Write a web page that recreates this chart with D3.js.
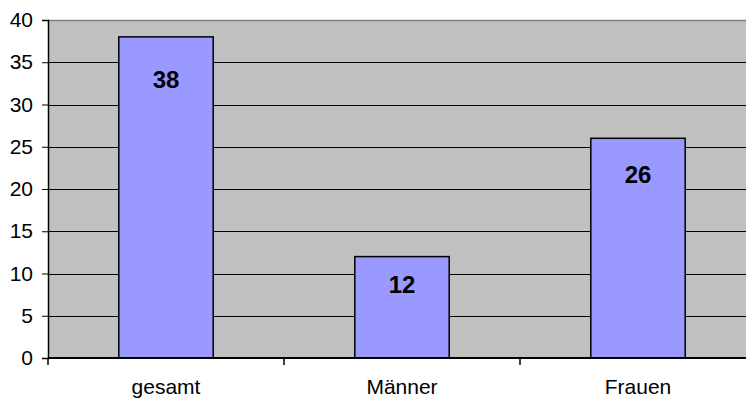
<!DOCTYPE html>
<html>
<head>
<meta charset="utf-8">
<script src="https://cdn.jsdelivr.net/npm/d3@7"></script>
<style>
  body { margin: 0; background: #fff; }
  text { font-family: "Liberation Sans", Arial, sans-serif; }
</style>
</head>
<body>
<div id="chart"></div>
<script>
const categories = ["gesamt", "Männer", "Frauen"];
const values = [38, 12, 26];
const yTicks = [0, 5, 10, 15, 20, 25, 30, 35, 40];

function init() {
  const width = 746;
  const height = 401;
  const left = 48, right = 756, top = 20, bottom = 358;

  const svg = d3.select("#chart")
    .append("svg")
    .attr("width", width)
    .attr("height", height);

  const x = d3.scaleBand()
    .domain(categories)
    .range([left, right])
    .paddingInner(0.6)
    .paddingOuter(0.3);

  const y = d3.scaleLinear()
    .domain([0, 40])
    .range([bottom, top]);

  // plot area
  svg.append("rect")
    .attr("x", left)
    .attr("y", top)
    .attr("width", right - left)
    .attr("height", bottom - top)
    .attr("fill", "#c0c0c0");

  svg.append("line")
    .attr("x1", left).attr("x2", right)
    .attr("y1", top + 0.5).attr("y2", top + 0.5)
    .attr("stroke", "#808080")
    .attr("stroke-width", 1.5);

  // gridlines
  svg.append("g")
    .selectAll("line")
    .data(yTicks.filter(d => d > 0 && d < 40))
    .enter()
    .append("line")
    .attr("x1", left).attr("x2", right)
    .attr("y1", d => Math.round(y(d)) + 0.5)
    .attr("y2", d => Math.round(y(d)) + 0.5)
    .attr("stroke", "#000")
    .attr("stroke-width", 1);

  // bars
  svg.append("g")
    .selectAll("rect")
    .data(values)
    .enter()
    .append("rect")
    .attr("x", (d, i) => x(categories[i]))
    .attr("y", d => y(d))
    .attr("width", x.bandwidth())
    .attr("height", d => bottom - y(d))
    .attr("fill", "#9999ff")
    .attr("stroke", "#000")
    .attr("stroke-width", 1.5);

  // value labels
  svg.append("g")
    .selectAll("text")
    .data(values)
    .enter()
    .append("text")
    .attr("x", (d, i) => x(categories[i]) + x.bandwidth() / 2)
    .attr("y", d => y(d * 0.93) + 29)
    .attr("text-anchor", "middle")
    .style("font-size", "24px")
    .style("font-weight", "bold")
    .text(d => d);

  // y axis
  const yAxis = d3.axisLeft(y)
    .tickValues(yTicks)
    .tickSize(6)
    .tickPadding(9);

  const gy = svg.append("g")
    .attr("transform", "translate(" + left + ",0)")
    .call(yAxis);
  gy.select(".domain").attr("stroke-width", 1.5);
  gy.selectAll(".tick line").attr("stroke", "#000");
  gy.selectAll(".tick text")
    .attr("fill", "#000")
    .style("font-size", "21px")
    .style("font-family", "'Liberation Sans', Arial, sans-serif");

  // x axis
  const gx = svg.append("g")
    .attr("transform", "translate(0," + bottom + ")");

  gx.append("line")
    .attr("x1", left).attr("x2", right)
    .attr("y1", 0).attr("y2", 0)
    .attr("stroke", "#000")
    .attr("stroke-width", 2);

  gx.selectAll("line.tick")
    .data(categories.concat([null]))
    .enter()
    .append("line")
    .attr("class", "tick")
    .attr("x1", (d, i) => i < categories.length ? x(d) - x.step() * x.paddingOuter() : right)
    .attr("x2", (d, i) => i < categories.length ? x(d) - x.step() * x.paddingOuter() : right)
    .attr("y1", 0).attr("y2", 7)
    .attr("stroke", "#000")
    .attr("stroke-width", 1.5);

  gx.selectAll("text")
    .data(categories)
    .enter()
    .append("text")
    .attr("x", d => x(d) + x.bandwidth() / 2)
    .attr("y", 36)
    .attr("text-anchor", "middle")
    .style("font-size", "21px")
    .text(d => d);
}
init();
</script>
</body>
</html>
